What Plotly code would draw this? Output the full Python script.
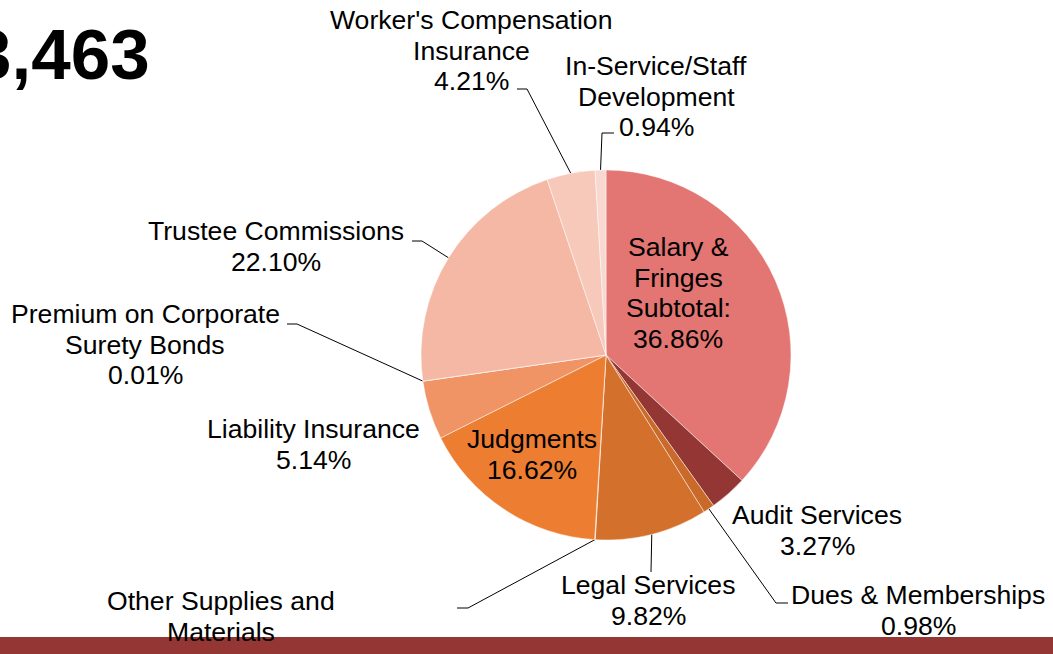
import math
import plotly.graph_objects as go

W, H = 1053, 654
CX, CY, R = 606, 355, 185   # pie centre and radius in pixels

categories = [
    "Salary & Fringes Subtotal:",
    "Audit Services",
    "Dues & Memberships",
    "Legal Services",
    "Other Supplies and Materials",
    "Judgments",
    "Liability Insurance",
    "Premium on Corporate Surety Bonds",
    "Trustee Commissions",
    "Worker's Compensation Insurance",
    "In-Service/Staff Development",
]
shares = [36.86, 3.27, 0.98, 9.82, 0.05, 16.62, 5.14, 0.01, 22.10, 4.21, 0.94]
colors = [
    "#E37572", "#943634", "#C9692A", "#D3702C", "#F2A27C", "#ED7D31",
    "#F09466", "#F2A584", "#F4B8A5", "#F6C9BB", "#F8D8D0",
]

# label text split into lines (last line is the percentage)
label_lines = {
    "Salary & Fringes Subtotal:": ["Salary &", "Fringes", "Subtotal:"],
    "Audit Services": ["Audit Services"],
    "Dues & Memberships": ["Dues & Memberships"],
    "Legal Services": ["Legal Services"],
    "Other Supplies and Materials": ["Other Supplies and", "Materials"],
    "Judgments": ["Judgments"],
    "Liability Insurance": ["Liability Insurance"],
    "Premium on Corporate Surety Bonds": ["Premium on Corporate", "Surety Bonds"],
    "Trustee Commissions": ["Trustee Commissions"],
    "Worker's Compensation Insurance": ["Worker's Compensation", "Insurance"],
    "In-Service/Staff Development": ["In-Service/Staff", "Development"],
}
# centre x and first-line y of each label, in pixels
label_pos = {
    "Salary & Fringes Subtotal:": (678, 247),
    "Audit Services": (817, 515),
    "Dues & Memberships": (918, 595),
    "Legal Services": (648, 585),
    "Other Supplies and Materials": (221, 601),
    "Judgments": (532, 439),
    "Liability Insurance": (313, 429),
    "Premium on Corporate Surety Bonds": (145, 314),
    "Trustee Commissions": (276, 231),
    "Worker's Compensation Insurance": (471, 20),
    "In-Service/Staff Development": (656, 66),
}
# leader line bends, from the slice edge outwards
leaders = {
    "Dues & Memberships": [(776, 603), (788, 603)],
    "Legal Services": [(651, 572)],
    "Other Supplies and Materials": [(468, 608), (457, 608)],
    "Premium on Corporate Surety Bonds": [(297, 324), (287, 324)],
    "Trustee Commissions": [(422, 241), (412, 241)],
    "Worker's Compensation Insurance": [(527, 89), (517, 89)],
    "In-Service/Staff Development": [(602, 133), (614, 133)],
}
LINE_GAP = 30.5
FONT = "Liberation Sans, Arial, sans-serif"

fig = go.Figure()

fig.add_trace(go.Pie(
    labels=categories, values=shares, sort=False, direction="clockwise",
    rotation=0, textinfo="none", hoverinfo="label+percent",
    marker=dict(colors=colors, line=dict(color="rgba(255,255,255,0.6)", width=0.8)),
    domain=dict(x=[(CX - R) / W, (CX + R) / W],
                y=[(H - CY - R) / H, (H - CY + R) / H]),
    showlegend=False,
))

total = sum(shares)
cum = 0.0
for cat, v in zip(categories, shares):
    mid = math.radians((cum + v / 2) / total * 360)
    cum += v
    if cat in leaders:
        ex, ey = CX + R * math.sin(mid), CY - R * math.cos(mid)
        pts = [(ex, ey)] + leaders[cat]
        fig.add_trace(go.Scatter(
            x=[p[0] for p in pts], y=[p[1] for p in pts], mode="lines",
            line=dict(color="black", width=1), hoverinfo="skip", showlegend=False,
        ))
    lx, ly = label_pos[cat]
    lines = label_lines[cat] + [f"{v:.2f}%"]
    for i, txt in enumerate(lines):
        fig.add_annotation(x=lx, y=ly + i * LINE_GAP, text=txt, showarrow=False,
                           xanchor="center", yanchor="middle",
                           font=dict(family=FONT, size=26.6, color="black"))

# big total in the corner, cut off at the left edge as in the slide
fig.add_annotation(x=152, y=54, text="<b>3,463</b>", showarrow=False,
                   xanchor="right", yanchor="middle",
                   font=dict(family=FONT, size=71, color="black"))

fig.add_shape(type="rect", xref="paper", yref="paper", x0=0, x1=1, y0=0, y1=17 / H,
              fillcolor="#943634", line=dict(width=0), layer="above")

fig.update_layout(
    width=W, height=H,
    margin=dict(l=0, r=0, t=0, b=0),
    paper_bgcolor="white", plot_bgcolor="white",
    xaxis=dict(range=[0, W], visible=False, fixedrange=True),
    yaxis=dict(range=[H, 0], visible=False, fixedrange=True),
)

fig.write_html("out.html", config={"displayModeBar": False},
               post_script="document.body.style.margin='0';document.body.style.overflow='hidden';")
